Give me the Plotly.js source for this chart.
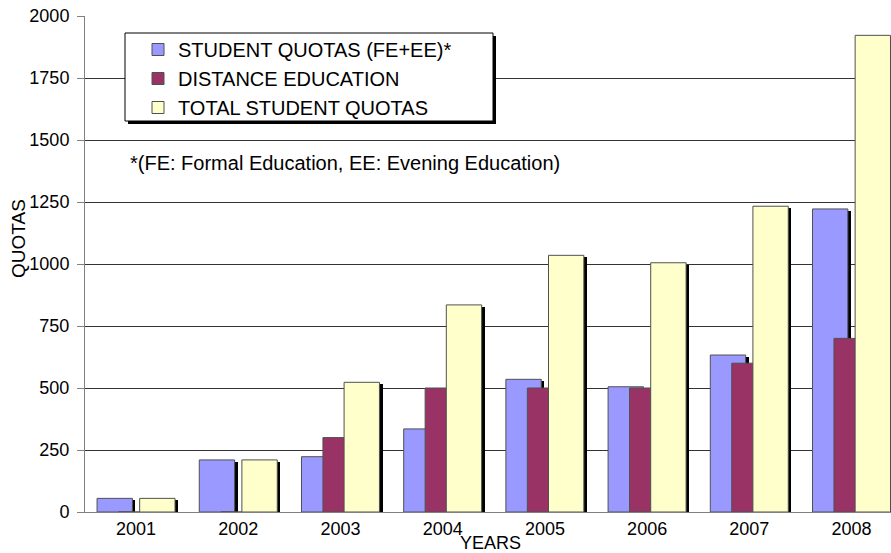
<!DOCTYPE html>
<html>
<head>
<meta charset="utf-8">
<script src="https://cdn.plot.ly/plotly-3.0.1.min.js"></script>
<style>html,body{margin:0;padding:0;background:#fff;}#chart{width:891px;height:553px;}</style>
</head>
<body>
<div id="chart"></div>
<script>
// ---- data ----
var years = ["2001","2002","2003","2004","2005","2006","2007","2008"];
var studentQuotas = [55, 210, 223, 335, 535, 505, 633, 1222];
var distanceEducation = [0, 0, 300, 500, 500, 500, 600, 700];
var totalQuotas = [55, 210, 523, 835, 1035, 1005, 1233, 1922];
var seriesNames = ["STUDENT QUOTAS (FE+EE)*", "DISTANCE EDUCATION", "TOTAL STUDENT QUOTAS"];
var yTicks = [0, 250, 500, 750, 1000, 1250, 1500, 1750, 2000];
var footnote = "*(FE: Formal Education, EE: Evening Education)";

// ---- layout geometry (pixels) ----
var W = 891, H = 553;
var L = 85, R = 891, T = 16, B = 512;
function px(x){ return (x - L) / (R - L); }
function py(y){ return (B - y) / (B - T); }

var FONT = "Liberation Sans, Arial, sans-serif";
var colors = ["#9999FF", "#993366", "#FFFFCC"];
var barW = 0.346;
var offsets = [-0.382, -0.172, 0.035];
var shadowDx = 0.03;
var series = [studentQuotas, distanceEducation, totalQuotas];

var traces = [];
series.forEach(function(vals, i){
  traces.push({
    type: "bar", x: years,
    y: vals.map(function(v){ return v > 0 ? Math.max(v - 8, 0) : 0; }),
    width: barW, offset: offsets[i] + shadowDx,
    marker: {color: "#000000", line: {width: 0}},
    showlegend: false, hoverinfo: "skip"
  });
  traces.push({
    type: "bar", x: years, y: vals, name: seriesNames[i],
    width: barW, offset: offsets[i],
    marker: {color: colors[i], line: {color: "#505050", width: 1}}
  });
});

var layout = {
  width: W, height: H,
  margin: {l: L, r: W - R, t: T, b: H - B, pad: 0},
  paper_bgcolor: "#ffffff", plot_bgcolor: "#ffffff",
  font: {family: FONT, size: 18, color: "#000000"},
  barmode: "overlay",
  bargap: 0,
  showlegend: true,
  legend: {
    x: px(138), y: py(30), xanchor: "left", yanchor: "top",
    bgcolor: "rgba(0,0,0,0)", borderwidth: 0,
    font: {family: FONT, size: 20, color: "#000"},
    traceorder: "normal"
  },
  xaxis: {
    type: "category", range: [-0.5, 7.386],
    showline: true, linecolor: "#808080", linewidth: 1,
    ticks: "", showgrid: false, zeroline: false,
    tickfont: {family: FONT, size: 18, color: "#000"}
  },
  yaxis: {
    range: [0, 2000], tickmode: "array", tickvals: yTicks,
    ticktext: yTicks.map(String),
    showline: true, linecolor: "#808080", linewidth: 1,
    ticks: "outside", ticklen: 7, tickcolor: "#808080",
    ticklabelstandoff: 4,
    showgrid: true, gridcolor: "#333333", gridwidth: 1,
    zeroline: false,
    tickfont: {family: FONT, size: 18, color: "#000"}
  },
  shapes: [
    {type: "rect", xref: "paper", yref: "paper", layer: "above",
     x0: px(128), x1: px(496), y0: py(124), y1: py(36),
     fillcolor: "#000", line: {width: 0}},
    {type: "rect", xref: "paper", yref: "paper", layer: "above",
     x0: px(125), x1: px(493), y0: py(121), y1: py(33),
     fillcolor: "#fff", line: {color: "#000", width: 1}}
  ],
  annotations: [
    {xref: "paper", yref: "paper", x: px(128), y: py(163), xanchor: "left", yanchor: "middle",
     text: footnote, showarrow: false, font: {family: FONT, size: 20, color: "#000"}},
    {xref: "paper", yref: "paper", x: px(490), y: py(543), xanchor: "center", yanchor: "middle",
     text: "YEARS", showarrow: false, font: {family: FONT, size: 18, color: "#000"}},
    {xref: "paper", yref: "paper", x: px(18), y: py(239), xanchor: "center", yanchor: "middle",
     text: "QUOTAS", textangle: -90, showarrow: false, font: {family: FONT, size: 19, color: "#000"}}
  ]
};

Plotly.newPlot("chart", traces, layout, {displayModeBar: false, staticPlot: true});
</script>
</body>
</html>
